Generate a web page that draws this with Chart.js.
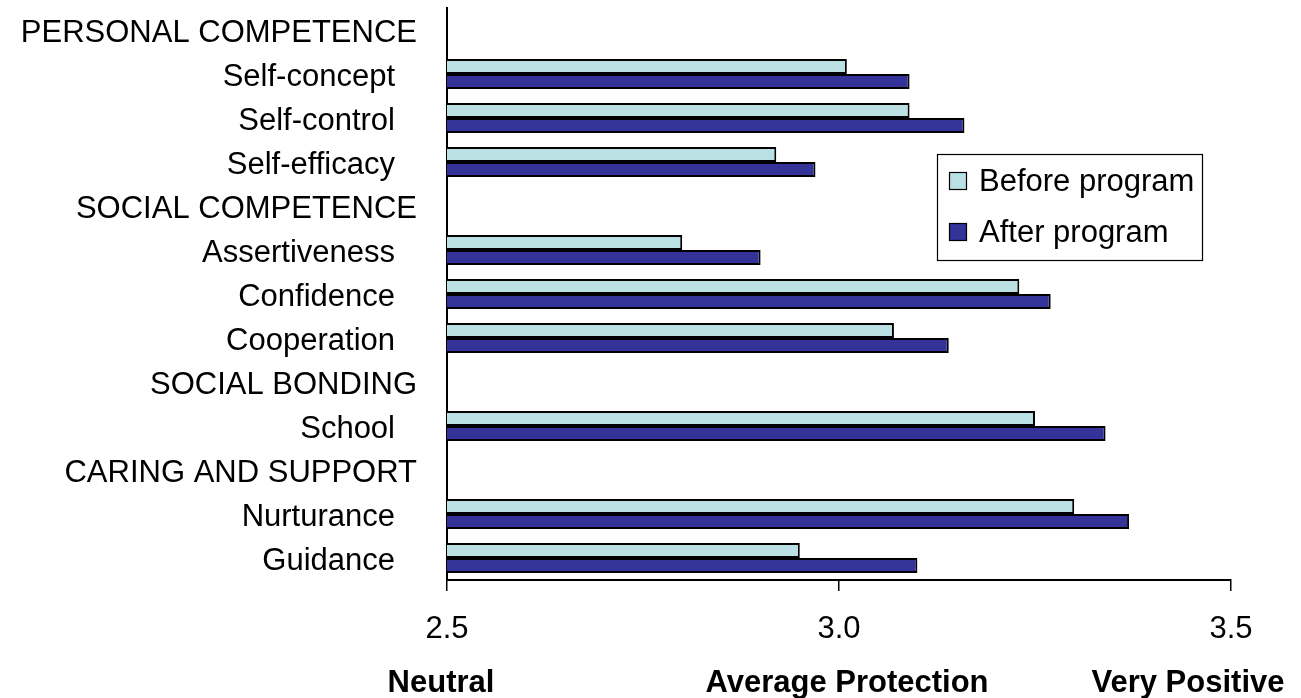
<!DOCTYPE html>
<html>
<head>
<meta charset="utf-8">
<title>Protective factors before and after the program</title>
<script src="https://cdn.jsdelivr.net/npm/chart.js@4.4.1/dist/chart.umd.min.js"></script>
<style>
  html, body { margin: 0; padding: 0; background: #ffffff; }
  #wrap { width: 1301px; height: 698px; }
</style>
</head>
<body>
<div id="wrap"><canvas id="chart" width="1301" height="698"></canvas></div>
<script>
// Rows of the chart, top to bottom; group headings carry no bars
const categories = [
  'PERSONAL COMPETENCE',
  'Self-concept',
  'Self-control',
  'Self-efficacy',
  'SOCIAL COMPETENCE',
  'Assertiveness',
  'Confidence',
  'Cooperation',
  'SOCIAL BONDING',
  'School',
  'CARING AND SUPPORT',
  'Nurturance',
  'Guidance'
];
const headings = ['PERSONAL COMPETENCE', 'SOCIAL COMPETENCE', 'SOCIAL BONDING', 'CARING AND SUPPORT'];

// Mean scores per row (null on heading rows)
const beforeProgram = [null, 3.01, 3.09, 2.92, null, 2.80, 3.23, 3.07, null, 3.25, null, 3.30, 2.95];
const afterProgram  = [null, 3.09, 3.16, 2.97, null, 2.90, 3.27, 3.14, null, 3.34, null, 3.37, 3.10];

const seriesNames = ['Before program', 'After program'];

// Value axis
const xTickValues = [2.5, 3.0, 3.5];
const scaleAnchors = ['Neutral', 'Average Protection', 'Very Positive'];

const FONT = '"Liberation Sans", Arial, Helvetica, sans-serif';

// Row labels: headings sit closer to the axis than the items under them
const rowLabels = {
  id: 'rowLabels',
  afterDraw(chart) {
    const { ctx, chartArea, scales } = chart;
    ctx.save();
    ctx.font = '31px ' + FONT;
    ctx.fillStyle = '#000';
    ctx.textAlign = 'right';
    ctx.textBaseline = 'alphabetic';
    categories.forEach((label, i) => {
      const y = scales.y.getPixelForValue(i);
      const isHeading = headings.includes(label);
      const x = chartArea.left - (isHeading ? 30 : 52);
      ctx.fillText(label, x, y + 11.5);
    });
    ctx.restore();
  }
};

// Bold captions under the value axis
const anchorCaptions = {
  id: 'anchorCaptions',
  afterDraw(chart) {
    const { ctx, scales } = chart;
    const offsets = [-6, 8, -43];
    ctx.save();
    ctx.font = 'bold 31px ' + FONT;
    ctx.fillStyle = '#000';
    ctx.textAlign = 'center';
    ctx.textBaseline = 'alphabetic';
    scaleAnchors.forEach((txt, i) => {
      const x = scales.x.getPixelForValue(xTickValues[i]) + offsets[i];
      ctx.fillText(txt, x, 692);
    });
    ctx.restore();
  }
};

// Boxed legend inside the plot area
const boxedLegend = {
  id: 'boxedLegend',
  afterDraw(chart) {
    const { ctx } = chart;
    const box = { x: 937, y: 154, w: 265, h: 106 };
    ctx.save();
    ctx.fillStyle = '#ffffff';
    ctx.fillRect(box.x, box.y, box.w, box.h);
    ctx.strokeStyle = '#000';
    ctx.lineWidth = 1.2;
    ctx.strokeRect(box.x + 0.5, box.y + 0.5, box.w, box.h);
    ctx.font = '31px ' + FONT;
    ctx.textAlign = 'left';
    ctx.textBaseline = 'alphabetic';
    chart.data.datasets.forEach((ds, i) => {
      const cy = 181 + i * 51;
      ctx.fillStyle = ds.backgroundColor;
      ctx.fillRect(949, cy - 9, 18, 18);
      ctx.strokeStyle = '#000';
      ctx.lineWidth = 1.2;
      ctx.strokeRect(949.5, cy - 8.5, 17, 17);
      ctx.fillStyle = '#000';
      ctx.fillText(ds.label, 979, cy + 10);
    });
    ctx.restore();
  }
};

new Chart(document.getElementById('chart'), {
  type: 'bar',
  data: {
    labels: categories,
    datasets: [
      {
        label: seriesNames[0],
        data: beforeProgram,
        backgroundColor: '#BBE0E3',
        borderColor: '#000000',
        borderWidth: 2,
        borderSkipped: false
      },
      {
        label: seriesNames[1],
        data: afterProgram,
        backgroundColor: '#333399',
        borderColor: '#000000',
        borderWidth: 2,
        borderSkipped: false
      }
    ]
  },
  options: {
    indexAxis: 'y',
    responsive: false,
    animation: false,
    devicePixelRatio: 1,
    barPercentage: 1,
    categoryPercentage: 30 / 44,
    layout: { padding: { top: 8, right: 70, left: 0, bottom: 0 } },
    plugins: {
      legend: { display: false },
      tooltip: { enabled: false },
      title: { display: false }
    },
    scales: {
      x: {
        type: 'linear',
        min: 2.5,
        max: 3.5,
        afterBuildTicks(axis) {
          axis.ticks = xTickValues.map(v => ({ value: v }));
        },
        afterFit(axis) { axis.height = 118; },
        ticks: {
          color: '#000',
          font: { family: FONT, size: 31 },
          padding: 20,
          maxRotation: 0,
          callback: v => Number(v).toFixed(1)
        },
        grid: {
          display: true,
          drawOnChartArea: false,
          drawTicks: true,
          tickLength: 11,
          color: '#000',
          lineWidth: 1.5
        },
        border: { display: true, color: '#000', width: 2 }
      },
      y: {
        type: 'category',
        afterFit(axis) { axis.width = 447; },
        ticks: { display: false },
        grid: { display: false, drawTicks: false },
        border: { display: true, color: '#000', width: 2 }
      }
    }
  },
  plugins: [rowLabels, anchorCaptions, boxedLegend]
});
</script>
</body>
</html>
